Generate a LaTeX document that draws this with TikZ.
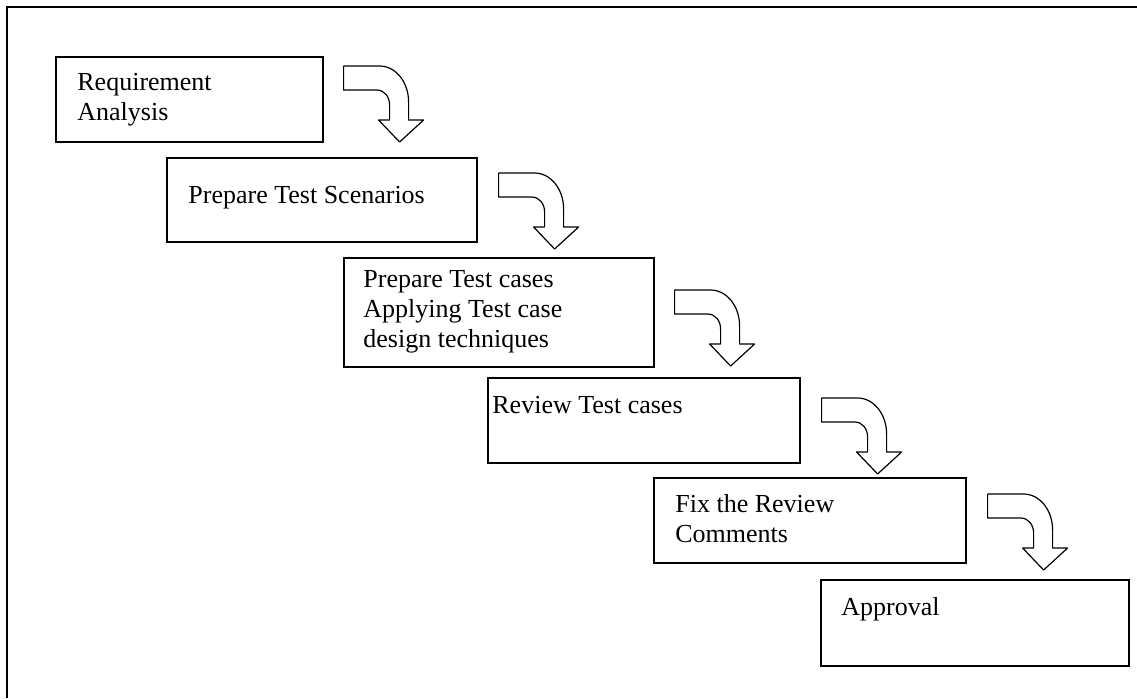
\documentclass[tikz,border=0pt]{standalone}
\usepackage{fontspec}
\setmainfont{Liberation Serif}
\usetikzlibrary{positioning}

\tikzset{
  stepbox/.style={draw, rectangle, line width=0.8pt, anchor=north west, inner sep=0pt},
  steptext/.style={anchor=base west, align=left, inner sep=0pt, font=\fontsize{13}{14.8}\selectfont},
  arrowline/.style={draw, line width=0.6pt, fill=white, line join=round},
  frameline/.style={line width=1.1pt},
  bendarrow/.pic={
    \path[arrowline] (0,0) -- (36,0) .. controls (52,0) and (65,16) .. (65,36)
      -- (65,54) -- (80,54) -- (56,76) -- (35,54) -- (46,54) -- (46,39)
      .. controls (46,31) and (41,24) .. (33,24) -- (0,24) -- cycle;
  }
}

\begin{document}
\begin{tikzpicture}[x=0.5pt, y=-0.5pt]
  \useasboundingbox (0,0) rectangle (1137,698);

  % outer frame
  \coordinate (frametop) at (1137,7);
  \coordinate (framecorner) at (7,7);
  \coordinate (framebottom) at (7,698);
  \draw[frameline] (frametop) -- (framecorner) -- (framebottom);

  % steps
  \node[stepbox, minimum width=133.5pt, minimum height=42.5pt] (req) at (55,56) {};
  \node[stepbox, minimum width=155pt, minimum height=42pt] (scen) at (166,157) {};
  \node[stepbox, minimum width=155pt, minimum height=54.5pt] (cases) at (343,257) {};
  \node[stepbox, minimum width=156pt, minimum height=42.5pt] (review) at (487,377) {};
  \node[stepbox, minimum width=156pt, minimum height=42.5pt] (fix) at (653,477) {};
  \node[stepbox, minimum width=154pt, minimum height=43pt] (approval) at (820,579) {};

  % texts (base = baseline of the last line)
  \node[steptext] (reqtext) at ([shift={(22,64)}]req.north west) {Requirement\\Analysis};
  \node[steptext] (scentext) at ([shift={(22,46)}]scen.north west) {Prepare Test Scenarios};
  \node[steptext] (casestext) at ([shift={(20,90)}]cases.north west) {Prepare Test cases\\Applying Test case\\design techniques};
  \node[steptext] (reviewtext) at ([shift={(5,36)}]review.north west) {Review Test cases};
  \node[steptext] (fixtext) at ([shift={(22,65)}]fix.north west) {Fix the Review\\Comments};
  \node[steptext] (approvaltext) at ([shift={(21,36)}]approval.north west) {Approval};

  % bent arrows between the steps
  \pic at ([shift={(20,10)}]req.north east) {bendarrow};
  \pic at ([shift={(21,16)}]scen.north east) {bendarrow};
  \pic at ([shift={(20,33)}]cases.north east) {bendarrow};
  \pic at ([shift={(21,21)}]review.north east) {bendarrow};
  \pic at ([shift={(21,17)}]fix.north east) {bendarrow};

\end{tikzpicture}
\end{document}
